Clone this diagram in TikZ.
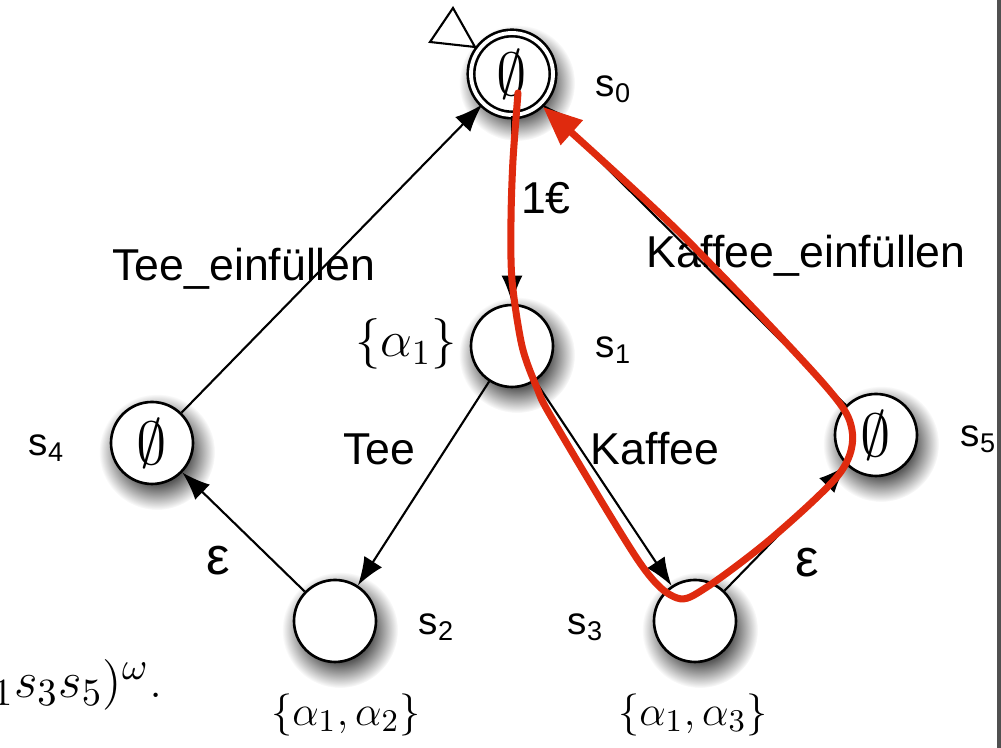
\documentclass[tikz,border=0pt]{standalone}
\usepackage{fontspec}
\setsansfont{Liberation Sans}
\usetikzlibrary{arrows.meta,fadings,backgrounds,calc}
\definecolor{PathRed}{HTML}{DF2A0E}
\definecolor{FrameGray}{HTML}{505050}
\pgfdeclareradialshading{schattenverlauf}{\pgfpointorigin}{color(0bp)=(pgftransparent!0);
  color(14bp)=(pgftransparent!0); color(25bp)=(pgftransparent!100); color(50bp)=(pgftransparent!100)}
\pgfdeclarefading{weich}{\pgfuseshading{schattenverlauf}}

\begin{document}
\begin{tikzpicture}[>={Latex[length=8pt,width=6pt]},
    zust/.style={circle,draw,line width=0.75pt,fill=white,minimum size=0.82cm,inner sep=0pt,
      font=\fontsize{16.5}{18}\selectfont},
    schatten/.style={black,opacity=0.65,path fading=weich},
    kante/.style={->,line width=0.6pt},
    lbl/.style={font=\sffamily\fontsize{12.7}{15}\selectfont},
    zustname/.style={font=\sffamily\fontsize{11}{13}\selectfont,anchor=base west,inner sep=0pt},
    eps/.style={font=\sffamily\fontsize{15}{17}\selectfont},
    menge/.style={font=\fontsize{13}{16}\selectfont}]
  \clip (0,0) rectangle (10.01,7.48);
  % states
  \node[zust,double,double distance=1.1pt] (s0) at (5.12,6.74) {$\emptyset$};
  \node[zust] (s1) at (5.12,4.02) {};
  \node[zust] (s2) at (3.35,1.27) {};
  \node[zust] (s3) at (6.95,1.27) {};
  \node[zust] (s4) at (1.52,3.05) {$\emptyset$};
  \node[zust] (s5) at (8.76,3.13) {$\emptyset$};
  \begin{pgfonlayer}{background}
    \foreach \s in {s0,s1,s2,s3,s4,s5}
      \fill[schatten] ($(\s)+(0.05,-0.09)$) circle (0.58);
  \end{pgfonlayer}
  % initial marker
  \draw[fill=white,line width=0.6pt] (4.30,7.06) -- (4.53,7.40) -- (4.75,7.01) -- cycle;
  % transitions
  \draw[kante] (s0) -- (s1);
  \draw[kante] (s1) -- (s2);
  \draw[kante] (s1) -- (s3);
  \draw[kante] (s2) -- (s4);
  \draw[kante] (s3) -- (s5);
  \draw[kante] (s4) -- (s0);
  \draw[kante] (s5) -- (s0);
  % transition labels
  \node[lbl] (l01) at (5.46,5.50) {1€};
  \node[lbl,anchor=base] (l12) at (3.79,2.83) {Tee};
  \node[lbl,anchor=base] (l13) at (6.55,2.83) {Kaffee};
  \node[lbl,anchor=base] (l40) at (2.44,4.67) {Tee\_einfüllen};
  \node[lbl,anchor=base] (l50) at (8.06,4.80) {Kaffee\_einfüllen};
  \node[eps] (l24) at (2.18,1.87) {ε};
  \node[eps] (l35) at (8.07,1.85) {ε};
  % state names
  \node[zustname] (n0) at (5.95,6.51) {s\textsubscript{0}};
  \node[zustname] (n1) at (5.95,3.90) {s\textsubscript{1}};
  \node[zustname] (n2) at (4.18,1.13) {s\textsubscript{2}};
  \node[zustname] (n3) at (5.67,1.13) {s\textsubscript{3}};
  \node[zustname] (n4) at (0.28,2.92) {s\textsubscript{4}};
  \node[zustname] (n5) at (9.60,3.01) {s\textsubscript{5}};
  % labelling sets
  \node[menge,font=\fontsize{14}{16}\selectfont] (m1) at (4.06,4.04) {$\{\alpha_1\}$};
  \node[menge] (m2) at (3.46,0.33) {$\{\alpha_1,\alpha_2\}$};
  \node[menge] (m3) at (6.93,0.33) {$\{\alpha_1,\alpha_3\}$};
  % cut-off text of the slide
  \node[font=\fontsize{15}{17}\selectfont,anchor=base east,inner sep=0pt] (run) at (1.63,0.50)
    {$(s_0s_1s_3s_5)^\omega$.};
  % run
  \draw[PathRed,line width=2pt,line cap=round,line join=round,-{Triangle[length=11pt,width=9pt]}]
    plot[smooth,tension=0.5] coordinates {(5.18,6.55) (5.13,5.88) (5.11,5.28) (5.12,4.68)
      (5.22,4.02) (5.37,3.60) (5.53,3.28) (6.40,1.85) (6.77,1.50) (7.07,1.61) (7.73,2.11)
      (8.40,2.75) (8.52,3.18) (8.23,3.65) (6.80,5.15) (5.43,6.41)};
  \draw[FrameGray,line width=1.2pt] (9.99,0) -- (9.99,7.48);
\end{tikzpicture}
\end{document}
